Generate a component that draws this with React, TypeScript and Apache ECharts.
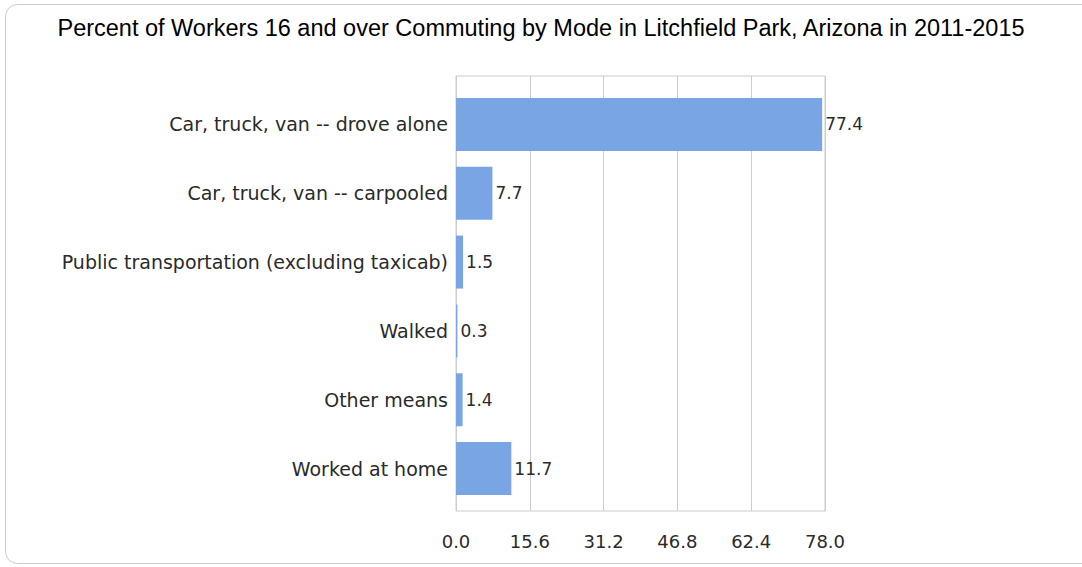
import React, { useEffect, useRef } from "react";
import * as echarts from "echarts";

const titleText = "Percent of Workers 16 and over Commuting by Mode in Litchfield Park, Arizona in 2011-2015";
const categories = [
  "Car, truck, van -- drove alone",
  "Car, truck, van -- carpooled",
  "Public transportation (excluding taxicab)",
  "Walked",
  "Other means",
  "Worked at home",
];
const values = [77.4, 7.7, 1.5, 0.3, 1.4, 11.7];
const axisMin = 0;
const axisMax = 78;
const axisInterval = 15.6;

export default function App() {
  const ref = useRef<HTMLDivElement>(null);
  useEffect(() => {
    if (!ref.current) return;
    const chart = echarts.init(ref.current, undefined, { renderer: "svg" });
    const labelFont = "DejaVu Sans";
    chart.setOption({
      animation: false,
      backgroundColor: "#ffffff",
      title: {
        text: titleText,
        left: "center",
        top: 11,
        textStyle: { fontFamily: "Liberation Sans", fontSize: 23.5, fontWeight: "normal", color: "#000" },
      },
      graphic: [
        {
          type: "rect",
          shape: { x: 5.5, y: 4.5, width: 1100, height: 559, r: 12 },
          style: { fill: "none", stroke: "#cccccc", lineWidth: 1 },
          silent: true,
          z: -1,
        },
      ],
      grid: [
        { left: 456, right: 257, top: 76, bottom: 56, show: true, borderColor: "#cccccc", borderWidth: 1, backgroundColor: "transparent" },
        { left: 456, right: 257, top: 90, bottom: 64 },
      ],
      xAxis: [
        {
          type: "value",
          gridIndex: 0,
          min: axisMin,
          max: axisMax,
          interval: axisInterval,
          axisLine: { show: false },
          axisTick: { show: false },
          splitLine: { show: true, lineStyle: { color: "#cccccc", width: 1 } },
          axisLabel: {
            margin: 21,
            fontFamily: labelFont,
            fontSize: 18,
            color: "#2a2a2a",
            formatter: (v: number) => v.toFixed(1),
          },
        },
        {
          type: "value",
          gridIndex: 1,
          min: axisMin,
          max: axisMax,
          show: false,
        },
      ],
      yAxis: [
        { type: "value", gridIndex: 0, show: false },
        {
          type: "category",
          gridIndex: 1,
          data: categories,
          inverse: true,
          axisLine: { show: false },
          axisTick: { show: false },
          splitLine: { show: false },
          axisLabel: { margin: 8, fontFamily: labelFont, fontSize: 19, color: "#2a2a2a" },
        },
      ],
      series: [
        {
          type: "bar",
          xAxisIndex: 1,
          yAxisIndex: 1,
          data: values,
          barWidth: 53,
          itemStyle: { color: "#7aa5e5" },
          label: {
            show: true,
            position: "right",
            distance: 3,
            fontFamily: labelFont,
            fontSize: 17,
            color: "#2a2a2a",
            formatter: (p: any) => Number(p.value).toFixed(1),
          },
        },
      ],
    });
    return () => chart.dispose();
  }, []);
  return (
    <div
      ref={ref}
      style={{ position: "absolute", left: 0, top: 0, width: 1082, height: 567 }}
    />
  );
}
